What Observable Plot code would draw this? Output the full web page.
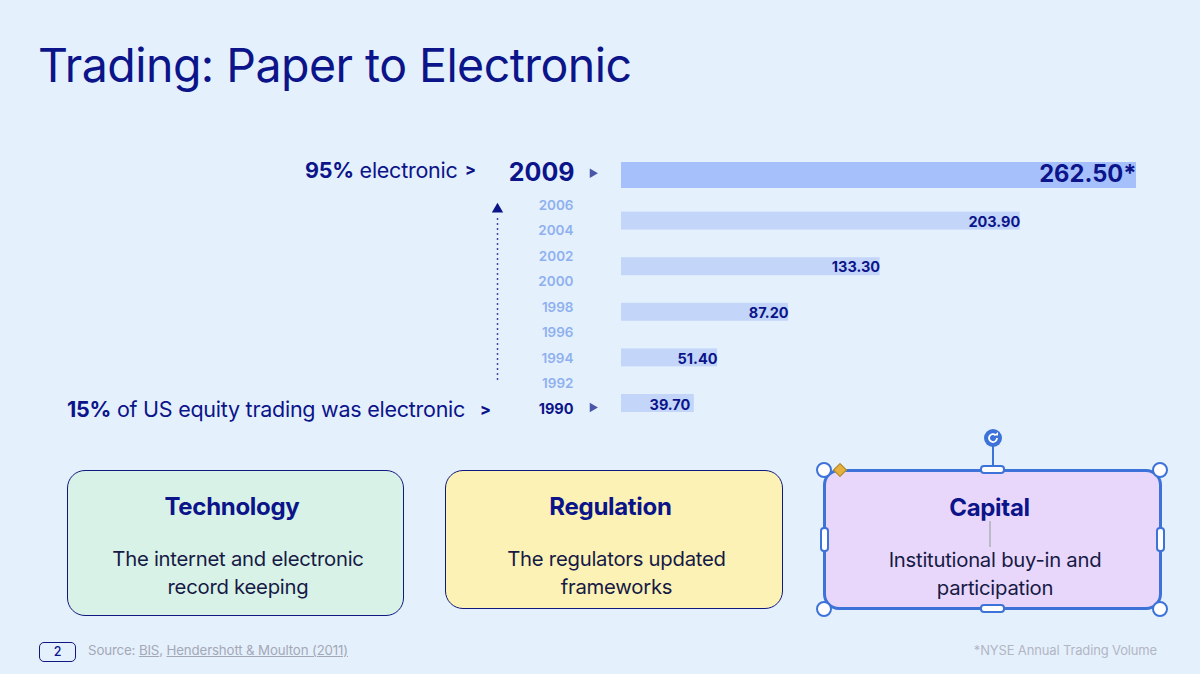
<!DOCTYPE html>
<html><head><meta charset="utf-8">
<script src="https://cdn.jsdelivr.net/npm/d3@7"></script>
<script src="https://cdn.jsdelivr.net/npm/@observablehq/plot@0.6"></script>
<style>
html,body{margin:0;padding:0;background:#e5f0fd;width:1200px;height:674px;overflow:hidden}
body{font-family:Inter,"Noto Sans",sans-serif;color:#0b1489;position:relative}
.a{position:absolute;white-space:nowrap}
#chart,#labels{position:absolute;left:0;top:0}
#chart svg,#labels svg{display:block;background:transparent}
.box{position:absolute;box-sizing:border-box;text-align:center}
.h{position:absolute;font-size:24px;font-weight:700;left:0;right:7px;text-align:center;letter-spacing:-.3px}
.p{position:absolute;font-size:20.3px;line-height:28px;color:#161a45;left:5px;right:0;text-align:center;letter-spacing:-.25px}
.hc{position:absolute;background:#fff;border:2.5px solid #3d72d8;box-sizing:border-box;border-radius:50%;width:16px;height:16px}
.hp{position:absolute;background:#fff;border:2.5px solid #3d72d8;box-sizing:border-box;border-radius:4px}
</style></head><body>
<div class="a" style="left:38px;top:34px;font-size:46.5px;line-height:62px;letter-spacing:-.55px">Trading: Paper to Electronic</div>
<div class="a" style="left:305px;top:156px;font-size:21.5px;line-height:28px;letter-spacing:-.25px"><b>95%</b> electronic</div>
<div class="a" style="left:465px;top:155px;font-size:16px;line-height:28px;font-weight:800">&gt;</div>
<div class="a" style="left:67px;top:395px;font-size:21.5px;line-height:28px;letter-spacing:-.25px"><b>15%</b> of US equity trading was electronic</div>
<div class="a" style="left:480px;top:395px;font-size:16px;line-height:28px;font-weight:800">&gt;</div>
<div id="labels"></div>
<div id="chart"></div>

<div class="box" style="left:67px;top:470px;width:337px;height:146px;background:#d9f2e8;border:1.5px solid #10197f;border-radius:18px">
  <div class="h" style="top:21px">Technology</div>
  <div class="p" style="top:74px">The internet and electronic<br>record keeping</div>
</div>
<div class="box" style="left:445px;top:470px;width:338px;height:139px;background:#fcf2b6;border:1.5px solid #10197f;border-radius:18px">
  <div class="h" style="top:21px">Regulation</div>
  <div class="p" style="top:74px">The regulators updated<br>frameworks</div>
</div>
<div class="box" style="left:823px;top:469px;width:339px;height:141px;background:#e9d7fb;border:3px solid #3d72d8;border-radius:16px">
  <div class="h" style="top:21px;right:6px">Capital</div>
  <div class="p" style="top:74px;left:5px;right:0;color:#161a45">Institutional buy-in and<br>participation</div>
</div>
<div class="a" style="left:989px;top:521px;width:2px;height:26px;background:#b9bac6"></div>
<div class="a" style="left:992px;top:446px;width:2px;height:22px;background:#3d72d8"></div>
<svg class="a" style="left:984px;top:429px" width="18" height="18" viewBox="0 0 18 18"><circle cx="9" cy="9" r="9" fill="#3d72d8"/><path d="M13 9a4 4 0 1 1-1.4-3" fill="none" stroke="#fff" stroke-width="1.8"/><path d="M10 6.4h4V3z" fill="#fff"/></svg>
<div class="hc" style="left:816px;top:462px"></div>
<div class="hc" style="left:1152px;top:462px"></div>
<div class="hc" style="left:816px;top:601px"></div>
<div class="hc" style="left:1152px;top:601px"></div>
<div class="hp" style="left:980px;top:465px;width:25px;height:9px"></div>
<div class="hp" style="left:980px;top:604px;width:25px;height:9px"></div>
<div class="hp" style="left:820px;top:527px;width:9px;height:25px"></div>
<div class="hp" style="left:1156px;top:527px;width:9px;height:25px"></div>
<div class="a" style="left:835px;top:465px;width:10px;height:10px;background:#e7b03c;border:1px solid #a88430;box-sizing:border-box;transform:rotate(45deg)"></div>

<div class="a" style="left:39px;top:642px;width:37px;height:20px;box-sizing:border-box;border:1.5px solid #10197f;border-radius:5px;text-align:center;font-size:12.5px;line-height:17px;font-weight:500">2</div>
<div class="a" style="left:88px;top:641px;font-size:13.3px;line-height:18px;color:#a4a8b6;letter-spacing:-.15px">Source: <u>BIS</u>, <u>Hendershott &amp; Moulton (2011)</u></div>
<div class="a" style="right:43px;top:641px;font-size:13px;line-height:18px;color:#b2b6c3;letter-spacing:-.15px">*NYSE Annual Trading Volume</div>

<script>
// Bars: NYSE annual trading volume, bottom to top
const barKeys = ["1990", "1994", "1998", "2002", "2005", "2009"];
const barValues = [39.7, 51.4, 87.2, 133.3, 203.9, 262.5];
const barLabels = ["39.70", "51.40", "87.20", "133.30", "203.90", "262.50*"];
// Year axis
const years = [1990, 1992, 1994, 1996, 1998, 2000, 2002, 2004, 2006];
const highlightYears = [1990];
const topYear = 2009;
const arrowFrom = 1992.3, arrowTo = 2005.2;

const rows = barKeys.map((k, i) => ({key: k, value: barValues[i], label: barLabels[i]}));
const last = rows.filter(d => d.key === String(topYear));
const rest = rows.filter(d => d.key !== String(topYear));
const first = rest.filter(d => d.key === "1990");
const middle = rest.filter(d => d.key !== "1990");
const navy = "#0b1489";
const xBase = 3;

document.getElementById("chart").append(Plot.plot({
  width: 1200, height: 674,
  margin: 0,
  style: {background: "transparent", fontFamily: "Inter, sans-serif"},
  x: {domain: [xBase, 262.5], range: [621, 1136], axis: null},
  y: {type: "band", domain: barKeys.slice().reverse(), range: [142.4, 435.6], padding: 0.43, round: false, axis: null},
  marks: [
    Plot.barX(last, {x1: () => xBase, x2: "value", y: "key", fill: "#a5c0fb"}),
    Plot.barX(rest, {x1: () => xBase, x2: "value", y: "key", insetTop: 4, insetBottom: 4, fill: "#c3d6fa"}),
    Plot.text(middle, {x: "value", y: "key", text: "label", textAnchor: "end", dy: 1, fill: navy, fontSize: 14.5, fontWeight: 700}),
    Plot.text(first, {x: "value", y: "key", text: "label", textAnchor: "end", dx: -4, dy: 2, fill: navy, fontSize: 14.5, fontWeight: 700}),
    Plot.text(last, {x: "value", y: "key", text: "label", textAnchor: "end", dy: -1, fill: navy, fontSize: 23.7, fontWeight: 700})
  ]
}));

const s = Plot.plot({
  width: 1200, height: 674,
  marginTop: 0, marginBottom: 0, marginLeft: 0, marginRight: 627,
  style: {background: "transparent", fontFamily: "Inter, sans-serif"},
  x: {domain: [0, 1], range: [497, 498], axis: null},
  y: {domain: [1990, 2006], range: [409, 205], axis: null},
  marks: [
    Plot.text(years.filter(y => !highlightYears.includes(y)), {y: d => d, text: d => String(d), frameAnchor: "right", fill: "#8fb0ef", fontSize: 13.5, fontWeight: 600}),
    Plot.text(highlightYears, {y: d => d, text: d => String(d), frameAnchor: "right", fill: navy, fontSize: 14.5, fontWeight: 700}),
    Plot.text([topYear], {y: d => d, text: d => String(d), frameAnchor: "right", dx: 1, dy: 6, fill: navy, fontSize: 25, fontWeight: 700}),
    Plot.dot([topYear], {y: d => d, frameAnchor: "right", dx: 19, dy: 6, symbol: "triangle", r: 3.5, rotate: 90, fill: "#4a57a8"}),
    Plot.dot(highlightYears, {y: d => d, frameAnchor: "right", dx: 19, dy: -2, symbol: "triangle", r: 3.5, rotate: 90, fill: "#4a57a8"}),
    Plot.ruleX([0], {y1: arrowFrom, y2: arrowTo, stroke: navy, strokeWidth: 1.5, strokeDasharray: "1.5 3.5"}),
    Plot.dot([0], {x: d => d, y: () => arrowTo + 0.5, symbol: "triangle", r: 4.2, fill: navy})
  ]
});
document.getElementById("labels").append(s);
</script>
</body></html>
